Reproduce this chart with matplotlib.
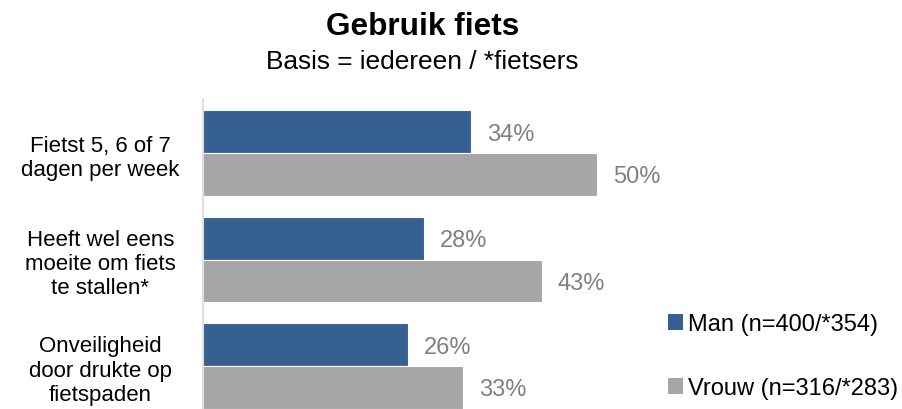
import matplotlib
matplotlib.use("Agg")
import matplotlib.pyplot as plt
from matplotlib.patches import Patch
from matplotlib.transforms import offset_copy
import numpy as np

plt.rcParams['font.family'] = ['Liberation Sans', 'DejaVu Sans']

categories = ["Fietst 5, 6 of 7\ndagen per week",
              "Heeft wel eens\nmoeite om fiets\nte stallen*",
              "Onveiligheid\ndoor drukte op\nfietspaden"]
man = [34, 28, 26]
vrouw = [50, 43, 33]
series_labels = ["Man (n=400/*354)", "Vrouw (n=316/*283)"]
colors = ["#35608F", "#A6A6A6"]

W, H = 903, 410
fig = plt.figure(figsize=(W / 100, H / 100), dpi=100)
ax = fig.add_axes([203 / W, 0, 473 / W, 310 / H])

y = np.arange(len(categories))
h = 0.40
ax.barh(y - h / 2, man, height=h, color=colors[0], edgecolor="white", linewidth=0.8)
ax.barh(y + h / 2, vrouw, height=h, color=colors[1], edgecolor="white", linewidth=0.8)
ax.set_xlim(0, 60)
ax.set_ylim(2.403, -0.507)

for vals, off in ((man, -h / 2), (vrouw, h / 2)):
    for i, v in enumerate(vals):
        tr = offset_copy(ax.transData, fig=fig, x=16, y=-2, units='dots')
        ax.text(v, i + off, f"{v}%", transform=tr, ha="left", va="center",
                fontsize=17, color="#808080")

ax.set_yticks(y)
ax.set_yticklabels(categories, fontsize=16, ha="center", color="#000000",
                   linespacing=1.2)
ax.tick_params(axis="y", length=0, pad=74)
ax.set_xticks([])
for s in ("top", "right", "bottom"):
    ax.spines[s].set_visible(False)
ax.spines["left"].set_color("#D9D9D9")
ax.spines["left"].set_linewidth(1.2)

fig.text(423 / W, 1 - 27 / H, "Gebruik fiets", ha="center", va="center",
         fontsize=22.7, fontweight="bold")
fig.text(422 / W, 1 - 62 / H, "Basis = iedereen / *fietsers", ha="center",
         va="center", fontsize=18.9)

handles = [Patch(facecolor=c, edgecolor="none") for c in colors]
fig.legend(handles, series_labels, loc="upper left",
           bbox_to_anchor=(668 / W, 1 - 314 / H), frameon=False,
           fontsize=17, handlelength=0.65, handleheight=0.65,
           handletextpad=0.2, labelspacing=1.8, borderaxespad=0,
           borderpad=0)

fig.savefig("out.png", dpi=100)
